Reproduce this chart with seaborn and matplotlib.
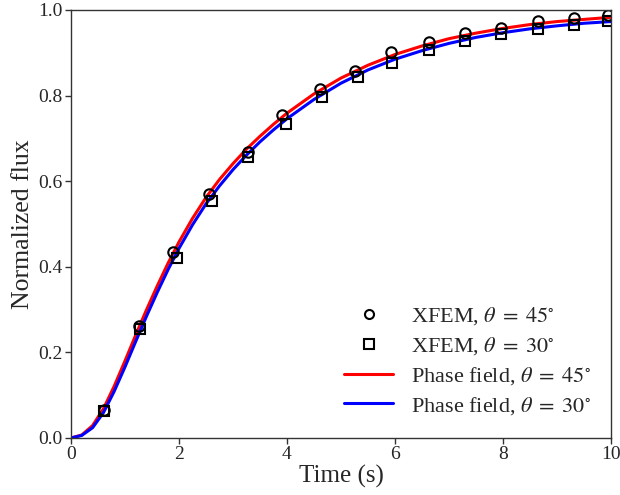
import matplotlib
matplotlib.use("Agg")
import matplotlib.pyplot as plt
import seaborn as sns

# Phase field curves
t_pf = [0.0, 0.2, 0.4, 0.6, 0.8, 1.0, 1.2, 1.4, 1.6, 1.8, 2.0, 2.25, 2.5, 2.75, 3.0,
        3.25, 3.5, 3.75, 4.0, 4.5, 5.0, 5.5, 6.0, 6.5, 7.0, 7.5, 8.0, 8.5, 9.0, 9.5, 10.0]
pf_45 = [0.0, 0.007, 0.029, 0.068, 0.121, 0.180, 0.241, 0.300, 0.356, 0.409, 0.458, 0.513,
         0.562, 0.604, 0.641, 0.675, 0.705, 0.733, 0.759, 0.804, 0.841, 0.871, 0.896, 0.916,
         0.933, 0.946, 0.957, 0.966, 0.973, 0.978, 0.983]
pf_30 = [0.0, 0.006, 0.024, 0.059, 0.109, 0.166, 0.226, 0.285, 0.341, 0.394, 0.443, 0.498,
         0.547, 0.589, 0.627, 0.661, 0.692, 0.720, 0.746, 0.791, 0.829, 0.860, 0.885, 0.905,
         0.922, 0.936, 0.947, 0.956, 0.963, 0.969, 0.973]

# XFEM points
t_x45 = [0.61, 1.26, 1.89, 2.56, 3.27, 3.90, 4.61, 5.26, 5.92, 6.63, 7.30, 7.96, 8.64, 9.31, 9.94]
x_45 = [0.065, 0.262, 0.435, 0.569, 0.669, 0.755, 0.815, 0.858, 0.902, 0.925, 0.947, 0.958,
        0.975, 0.981, 0.988]
t_x30 = [0.62, 1.27, 1.96, 2.62, 3.28, 3.98, 4.64, 5.32, 5.95, 6.63, 7.30, 7.96, 8.64, 9.31, 9.94]
x_30 = [0.063, 0.255, 0.421, 0.554, 0.656, 0.734, 0.796, 0.843, 0.877, 0.907, 0.928, 0.944,
        0.955, 0.966, 0.974]

sns.set_style("ticks")
plt.rcParams["font.family"] = ["Liberation Serif", "DejaVu Serif"]
plt.rcParams["mathtext.fontset"] = "stix"

fig = plt.figure(figsize=(6.2, 4.95), dpi=100)
ax = fig.add_axes([0.1145, 0.1152, 0.871, 0.8646])

sns.lineplot(x=t_pf, y=pf_45, ax=ax, color="#ff0000", lw=2.2,
             label=r"Phase field, $\theta\;=\;45^{\circ}$")
sns.lineplot(x=t_pf, y=pf_30, ax=ax, color="#0000ff", lw=2.2,
             label=r"Phase field, $\theta\;=\;30^{\circ}$")
ax.plot(t_x45, x_45, ls="none", marker="o", ms=7.5, mfc="none", mec="black", mew=1.5,
        label=r"XFEM, $\theta\;=\;45^{\circ}$")
ax.plot(t_x30, x_30, ls="none", marker="s", ms=7.5, mfc="none", mec="black", mew=1.5,
        label=r"XFEM, $\theta\;=\;30^{\circ}$")

ax.set_xlim(0, 10)
ax.set_ylim(0, 1)
ax.set_xticks([0, 2, 4, 6, 8, 10])
ax.set_yticks([0, 0.2, 0.4, 0.6, 0.8, 1.0])
ax.set_yticklabels(["0.0", "0.2", "0.4", "0.6", "0.8", "1.0"])
ax.set_xlabel("Time (s)", fontsize=18, labelpad=1)
ax.set_ylabel("Normalized flux", fontsize=18.5, labelpad=3)
ax.tick_params(labelsize=14, length=4, width=1, color="#333333", pad=2)
for s in ax.spines.values():
    s.set_visible(True)
    s.set_color("#333333")
    s.set_linewidth(1.0)

h, l = ax.get_legend_handles_labels()
order = [2, 3, 0, 1]
leg = ax.legend([h[i] for i in order], [l[i] for i in order], loc="lower right",
                bbox_to_anchor=(1.0, 0.003), frameon=False, fontsize=16,
                handlelength=2.2, handletextpad=0.8, labelspacing=0.36)
for hd in leg.legend_handles[:2]:
    hd.set_markersize(6.5)

fig.savefig("out.png", dpi=100)
